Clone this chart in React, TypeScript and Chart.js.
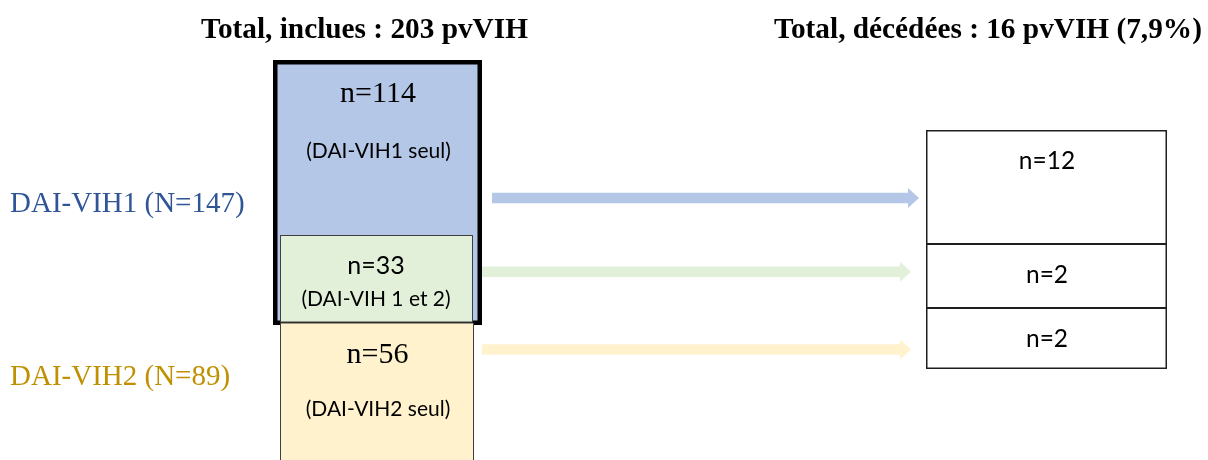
import React, { useEffect, useRef } from 'react';
import { Chart, registerables } from 'chart.js';

Chart.register(...registerables);

// ---------- data ----------
const titles = ['Total, inclues : 203 pvVIH', 'Total, décédées : 16 pvVIH (7,9%)'];
const groupLabels = ['DAI-VIH1 (N=147)', 'DAI-VIH2 (N=89)'];
const includedCounts = [114, 33, 56];
const includedLabels = ['(DAI-VIH1 seul)', '(DAI-VIH 1 et 2)', '(DAI-VIH2 seul)'];
const deceasedCounts = [12, 2, 2];

// ---------- layout (canvas units of the hidden axes) ----------
const WIDTH = 1208;
const HEIGHT = 460;

const includedBoxes = [
  { x0: 273, x1: 482, y0: 60, y1: 325 },
  { x0: 280, x1: 473, y0: 235, y1: 322.5 },
  { x0: 280, x1: 474, y0: 322.5, y1: 480 },
];
const deceasedBoxes = [
  { x0: 926, x1: 1167, y0: 130, y1: 244.6 },
  { x0: 926, x1: 1167, y0: 243.4, y1: 308.6 },
  { x0: 926, x1: 1167, y0: 307.4, y1: 369 },
];
const arrows = [
  { x0: 492, x1: 908, y: 198 },
  { x0: 482, x1: 900, y: 271.7 },
  { x0: 482, x1: 900, y: 349.5 },
];
const titlePos = [
  { x: 364.5, y: 38 },
  { x: 988, y: 38 },
];
const groupPos = [
  { x: 10, y: 212 },
  { x: 10, y: 385 },
];
const countPos = [
  { x: 378, y: 102 },
  { x: 376, y: 274 },
  { x: 377.5, y: 363 },
];
const subPos = [
  { x: 378.5, y: 158 },
  { x: 376, y: 306 },
  { x: 378, y: 416 },
];
const deceasedPos = [
  { x: 1047, y: 169 },
  { x: 1047, y: 283 },
  { x: 1047, y: 347 },
];

// ---------- styles ----------
const SERIF = '"Liberation Serif", "Times New Roman", serif';
const SANS = 'Lato, "Liberation Sans", sans-serif';
const boxFill = ['#B4C7E7', '#E2F0D9', '#FFF2CC'];
const boxStroke = ['#000000', '#3F3F3F', '#3F3F3F'];
const boxStrokeW = [4.5, 1, 1];
const arrowColor = ['#B4C7E7', '#E2F0D9', '#FFF2CC'];
const groupColor = ['#2F5597', '#BF9000'];
const countFont = [`30px ${SERIF}`, `25px ${SANS}`, `30px ${SERIF}`];

type Box = { x0: number; x1: number; y0: number; y1: number };

function rectPath(b: Box, w: number) {
  const h = w / 2;
  return [
    { x: b.x0 + h, y: b.y0 + h },
    { x: b.x1 - h, y: b.y0 + h },
    { x: b.x1 - h, y: b.y1 - h },
    { x: b.x0 + h, y: b.y1 - h },
    { x: b.x0 + h, y: b.y0 + h },
  ];
}

function makeHead(color: string, len: number, h: number) {
  const c = document.createElement('canvas');
  c.width = len * 2;
  c.height = h;
  const g = c.getContext('2d')!;
  g.fillStyle = color;
  g.beginPath();
  g.moveTo(len, 0);
  g.lineTo(2 * len, h / 2);
  g.lineTo(len, h);
  g.closePath();
  g.fill();
  return c;
}

const textPlugin = {
  id: 'diagramText',
  afterDatasetsDraw(chart: any) {
    const { ctx } = chart;
    const sx = chart.scales.x;
    const sy = chart.scales.y;
    const px = (v: number) => sx.getPixelForValue(v);
    const py = (v: number) => sy.getPixelForValue(v);
    ctx.save();
    ctx.textBaseline = 'alphabetic';
    ctx.textAlign = 'center';
    ctx.fillStyle = '#000000';
    ctx.font = `bold 29.3px ${SERIF}`;
    titles.forEach((t, i) => ctx.fillText(t, px(titlePos[i].x), py(titlePos[i].y)));

    ctx.textAlign = 'left';
    ctx.font = `29px ${SERIF}`;
    groupLabels.forEach((t, i) => {
      ctx.fillStyle = groupColor[i];
      ctx.fillText(t, px(groupPos[i].x), py(groupPos[i].y));
    });

    ctx.textAlign = 'center';
    ctx.fillStyle = '#000000';
    includedCounts.forEach((n, i) => {
      ctx.font = countFont[i];
      ctx.fillText(`n=${n}`, px(countPos[i].x), py(countPos[i].y));
    });
    ctx.font = `21px ${SANS}`;
    includedLabels.forEach((t, i) => ctx.fillText(t, px(subPos[i].x), py(subPos[i].y)));

    ctx.font = `24.5px ${SANS}`;
    deceasedCounts.forEach((n, i) => ctx.fillText(`n=${n}`, px(deceasedPos[i].x), py(deceasedPos[i].y)));
    ctx.restore();
  },
};

export default function App() {
  const ref = useRef<HTMLCanvasElement | null>(null);

  useEffect(() => {
    if (!ref.current) return;
    const datasets: any[] = [];

    includedBoxes.forEach((b, i) => {
      datasets.push({
        type: 'line',
        label: includedLabels[i],
        data: rectPath(b, boxStrokeW[i]),
        borderColor: boxStroke[i],
        borderWidth: boxStrokeW[i],
        backgroundColor: boxFill[i],
        fill: 'shape',
        tension: 0,
        pointRadius: 0,
        borderJoinStyle: 'miter',
        borderCapStyle: 'square',
        order: 10 - i,
      });
    });

    deceasedBoxes.forEach((b, i) => {
      datasets.push({
        type: 'line',
        label: `décédées ${i}`,
        data: rectPath(b, 1.5),
        borderColor: '#1F1F1F',
        borderWidth: 1.5,
        backgroundColor: '#FFFFFF',
        fill: 'shape',
        tension: 0,
        pointRadius: 0,
        borderJoinStyle: 'miter',
        borderCapStyle: 'square',
        order: 5,
      });
    });

    arrows.forEach((a, i) => {
      const head = makeHead(arrowColor[i], 11, 20);
      datasets.push({
        type: 'line',
        label: `flèche ${i}`,
        data: [
          { x: a.x0, y: a.y },
          { x: a.x1, y: a.y },
        ],
        borderColor: arrowColor[i],
        borderWidth: 10.5,
        borderCapStyle: 'butt',
        fill: false,
        tension: 0,
        pointStyle: ['circle', head],
        pointRadius: [0, 5],
        order: 1,
      });
    });

    const chart = new Chart(ref.current, {
      type: 'line',
      data: { datasets },
      options: {
        animation: false,
        responsive: false,
        events: [],
        layout: { padding: 0, autoPadding: false },
        plugins: {
          legend: { display: false },
          tooltip: { enabled: false },
          title: { display: false },
        },
        scales: {
          x: { type: 'linear', min: 0, max: WIDTH, display: false },
          y: { type: 'linear', min: 0, max: HEIGHT, reverse: true, display: false },
        },
      },
      plugins: [textPlugin],
    } as any);
    return () => chart.destroy();
  }, []);

  return (
    <div style={{ position: 'absolute', left: 0, top: 0, width: WIDTH, height: HEIGHT, background: '#ffffff' }}>
      <canvas ref={ref} width={WIDTH} height={HEIGHT} style={{ display: 'block' }} />
    </div>
  );
}
